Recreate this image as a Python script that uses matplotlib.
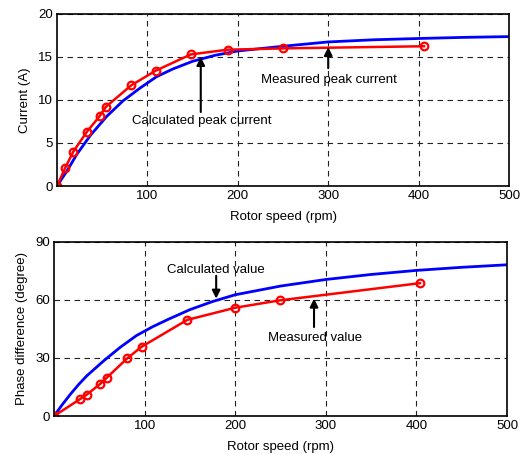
import matplotlib
matplotlib.use("Agg")
import matplotlib.pyplot as plt

plt.rcParams['font.family'] = ['Liberation Sans', 'DejaVu Sans']

# ------------------------------------------------------------------------------
# peak current (top)
meas_speed_i = [0, 9, 18, 33, 47, 54, 82, 109, 148, 189, 250, 406]
meas_current = [0, 2.1, 4.0, 6.3, 8.1, 9.2, 11.7, 13.4, 15.3, 15.85, 16.0, 16.25]
calc_speed_i = [0, 11, 22, 37, 55, 73, 92, 110, 128, 150, 175, 200, 250, 300, 350, 400, 450, 500]
calc_current = [0, 1.75, 3.7, 5.9, 8.1, 9.9, 11.4, 12.7, 13.6, 14.5, 15.2, 15.7, 16.25, 16.75, 17.0, 17.15, 17.28, 17.37]

# phase difference (bottom)
meas_speed_p = [0, 29, 36, 51, 58, 81, 97, 147, 200, 249, 404]
meas_phase = [0, 8.8, 11, 16.6, 19.7, 29.9, 35.9, 49.7, 56, 59.8, 68.7]
calc_speed_p = [0, 9, 18, 27, 36, 55, 73, 91, 109, 127, 150, 175, 200, 250, 300, 350, 400, 450, 500]
calc_phase = [0, 5.8, 11.2, 16.2, 20.7, 28.6, 35.5, 41.6, 46.2, 50.2, 55.0, 59.2, 62.7, 67.2, 70.6, 73.2, 75.3, 76.9, 78.2]

fig = plt.figure(figsize=(5.29, 4.54), dpi=100)
ax1 = fig.add_axes([0.1078, 0.5903, 0.8544, 0.3789])
ax2 = fig.add_axes([0.1021, 0.0837, 0.8563, 0.3833])

grid_style = dict(color='#222222', linestyle=(0, (5, 4)), linewidth=0.8)
arrow_style = dict(arrowstyle='-|>', color='black', lw=1.5, mutation_scale=12,
                   shrinkA=0, shrinkB=0)
fs = 9.5


def style_axes(ax, yticks, ylabel):
    ax.set_xlim(0, 500)
    ax.set_ylim(yticks[0], yticks[-1])
    ax.set_xticks([100, 200, 300, 400, 500])
    ax.set_yticks(yticks)
    ax.tick_params(length=0, labelsize=9.5, pad=3)
    ax.grid(True, **grid_style)
    ax.set_axisbelow(True)
    for s in ax.spines.values():
        s.set_linewidth(1.2)
    ax.set_xlabel("Rotor speed (rpm)", fontsize=fs, labelpad=6)
    ax.set_ylabel(ylabel, fontsize=fs, labelpad=5)


# top
ax1.plot(calc_speed_i, calc_current, color='blue', lw=2)
ax1.plot(meas_speed_i, meas_current, color='red', lw=1.8, marker='o',
         ms=5.5, mfc='none', mew=1.6)
style_axes(ax1, [0, 5, 10, 15, 20], "Current (A)")
ax1.annotate("", xy=(159, 15.0), xytext=(159, 8.6), arrowprops=arrow_style)
ax1.text(83, 7.5, "Calculated peak current", fontsize=fs, va='center')
ax1.annotate("", xy=(300, 16.15), xytext=(300, 13.7), arrowprops=arrow_style)
ax1.text(226, 12.3, "Measured peak current", fontsize=fs, va='center')

# bottom
ax2.plot(calc_speed_p, calc_phase, color='blue', lw=2)
ax2.plot(meas_speed_p, meas_phase, color='red', lw=1.8, marker='o',
         ms=5.5, mfc='none', mew=1.6)
style_axes(ax2, [0, 30, 60, 90], "Phase difference (degree)")
ax2.annotate("", xy=(179, 60.7), xytext=(179, 72.5), arrowprops=arrow_style)
ax2.text(125, 75.5, "Calculated value", fontsize=fs, va='center')
ax2.annotate("", xy=(287, 60.7), xytext=(287, 46), arrowprops=arrow_style)
ax2.text(236, 40.5, "Measured value", fontsize=fs, va='center')

fig.savefig("out.png", dpi=100)
